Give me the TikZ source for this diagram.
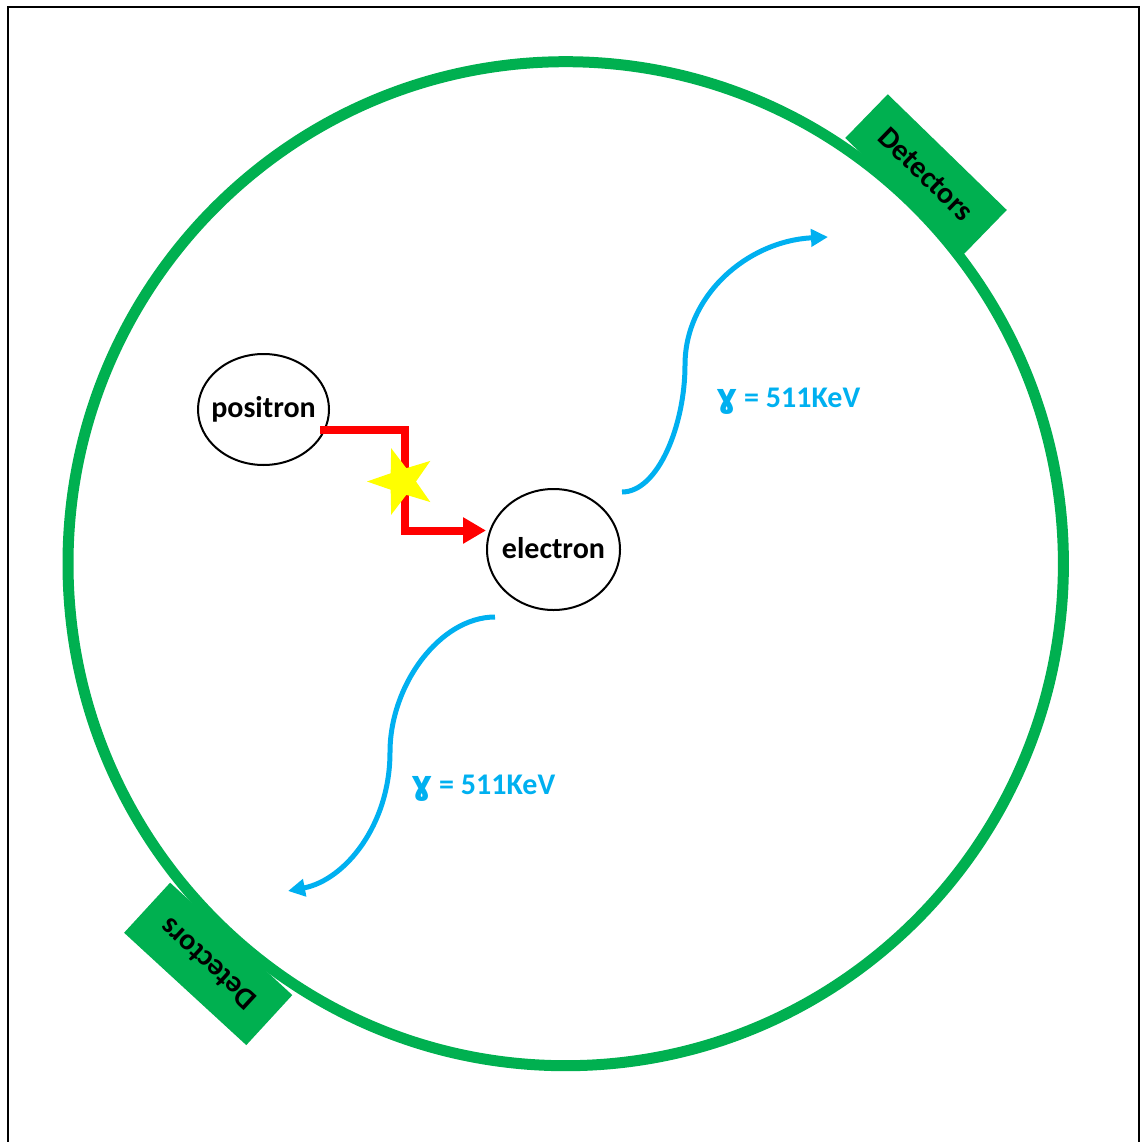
\documentclass[tikz,border=0pt]{standalone}
\usepackage{fontspec}
\setmainfont{Carlito}
\newfontfamily\ipafont{DejaVu Sans}
\usetikzlibrary{shapes.geometric,arrows.meta}

\definecolor{ringgreen}{HTML}{00B050}
\definecolor{photonblue}{HTML}{00B0F0}
\definecolor{pathred}{HTML}{FF0000}
\definecolor{flashyellow}{HTML}{FFFF00}

\newcommand\gammasym{{\fontsize{33}{34}\selectfont\ipafont ɣ}}
\newcommand\lifted[1]{\raisebox{3pt}{#1}}

\tikzset{
  lbl/.style={font=\fontsize{30}{35}\selectfont\bfseries},
  particle/.style={ellipse, draw=black, line width=2, fill=white,
                   inner xsep=-30, inner ysep=0, lbl},
  detector/.style={rectangle, fill=ringgreen, inner sep=0, lbl,
                   minimum width=166},
  photon/.style={photonblue, line width=5,
                 -{Triangle[length=17, width=17]}},
  energy/.style={lbl, text=photonblue, anchor=west, inner sep=0},
}

\begin{document}
\begin{tikzpicture}[x=1pt, y=-1pt]
  \useasboundingbox (0,0) rectangle (1140,1142);

  % open frame (no bottom edge)
  \draw[line width=2] (8,1142) -- (8,7) -- (1138.5,7) -- (1138.5,1142);

  % detector ring
  \draw[ringgreen, line width=11] (565.7,563.7) ellipse [x radius=497.7, y radius=502];

  % detector blocks
  \node[detector, minimum height=61, rotate=-44.2] (detA) at (926,174) {Detectors};
  \node[detector, minimum height=68, rotate=137.4] (detB) at (208.2,963.9) {Detectors};

  % particles
  \node[particle, minimum width=131, minimum height=111] (pos) at (263.5,409.5) {\lifted{positron}};
  \node[particle, minimum width=133, minimum height=121] (ele) at (553.5,549.5) {\lifted{electron}};

  % annihilation path
  \coordinate (redstart) at (320,429.5);
  \coordinate (bendA) at (405,429.5);
  \coordinate (bendB) at (405,530.5);
  \draw[pathred, line width=8, -{Triangle[length=23, width=25]}]
    (redstart) -- (bendA) -- (bendB) -- (ele.west |- bendB);

  % flash at the interaction point
  \node[star, star points=5, star point ratio=2.5, shape border rotate=90,
        fill=flashyellow, inner sep=0, minimum size=70] (flash) at (402,481.5) {};

  % outgoing photons
  \coordinate (g1s) at (622,492);
  \coordinate (g1m) at (685,365);
  \coordinate (g1e) at (828,237);
  \draw[photon] (g1s) .. controls (658,492) and (685,425) .. (g1m)
                      .. controls (685,295) and (748,241) .. (g1e);

  \coordinate (g2s) at (495,617);
  \coordinate (g2m) at (390,752);
  \coordinate (g2e) at (288,891);
  \draw[photon] (g2s) .. controls (440,617) and (390,685) .. (g2m)
                      .. controls (390,825) and (345,880) .. (g2e);

  % photon energy labels
  \node[energy] (e1) at (716,401) {\gammasym{} = 511KeV};
  \node[energy] (e2) at (411,788) {\gammasym{} = 511KeV};
\end{tikzpicture}
\end{document}
